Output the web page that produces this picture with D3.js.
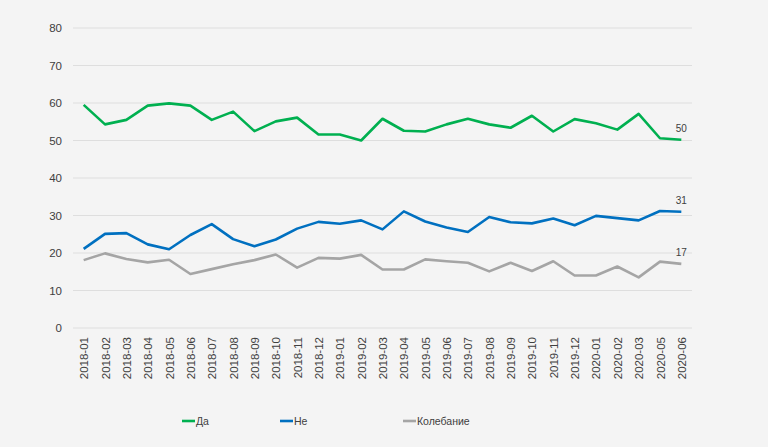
<!DOCTYPE html>
<html>
<head>
<meta charset="utf-8">
<script src="https://cdn.jsdelivr.net/npm/d3@7"></script>
<style>
  html, body { margin: 0; padding: 0; background: #f4f4f4; }
  svg { display: block; font-family: "Liberation Sans", Arial, sans-serif; }
</style>
</head>
<body>
<svg id="chart"></svg>
<script>
// months on the x axis (2020-04 is absent in the source)
const months = [
  "2018-01","2018-02","2018-03","2018-04","2018-05","2018-06","2018-07","2018-08","2018-09","2018-10","2018-11","2018-12",
  "2019-01","2019-02","2019-03","2019-04","2019-05","2019-06","2019-07","2019-08","2019-09","2019-10","2019-11","2019-12",
  "2020-01","2020-02","2020-03","2020-05","2020-06"
];
const da = [59.5,54.3,55.5,59.3,59.9,59.3,55.5,57.7,52.5,55.1,56.1,51.6,
            51.6,50.0,55.8,52.6,52.4,54.3,55.8,54.3,53.4,56.6,52.4,55.7,
            54.6,52.9,57.1,50.6,50.2];
const ne = [21.1,25.1,25.3,22.3,21.0,24.8,27.7,23.7,21.8,23.6,26.5,28.3,
            27.8,28.7,26.3,31.1,28.4,26.8,25.6,29.6,28.2,27.9,29.2,27.4,
            29.9,29.3,28.7,31.2,31.0];
const kolebanie = [18.1,19.9,18.4,17.5,18.2,14.4,15.7,17.0,18.1,19.6,16.1,18.7,
                   18.5,19.5,15.6,15.6,18.3,17.8,17.4,15.1,17.4,15.2,17.8,14.0,
                   14.0,16.4,13.5,17.7,17.1];
const yTicks = [0,10,20,30,40,50,60,70,80];

const series = [
  {name: "Да", values: da, color: "#00b050", label: "50"},
  {name: "Не", values: ne, color: "#0070c0", label: "31"},
  {name: "Колебание", values: kolebanie, color: "#a5a5a5", label: "17"}
];

const width = 768, height = 447;
const margin = {top: 28, right: 76, bottom: 119, left: 73};

const svg = d3.select("#chart")
  .attr("width", width)
  .attr("height", height);

const x = d3.scalePoint()
  .domain(months)
  .range([margin.left, width - margin.right])
  .padding(0.5);

const y = d3.scaleLinear()
  .domain([0, 80])
  .range([height - margin.bottom, margin.top]);

// gridlines
svg.append("g")
  .selectAll("line")
  .data(yTicks)
  .join("line")
  .attr("x1", margin.left)
  .attr("x2", width - margin.right)
  .attr("y1", d => y(d))
  .attr("y2", d => y(d))
  .attr("stroke", "#dedede")
  .attr("stroke-width", 1);

// y axis labels
const yAxis = svg.append("g")
  .attr("transform", `translate(${margin.left},0)`)
  .call(d3.axisLeft(y).tickValues(yTicks).tickSize(0).tickPadding(11));
yAxis.select(".domain").remove();
yAxis.selectAll("text")
  .attr("fill", "#404040")
  .style("font-size", "11.5px");

// x axis labels, rotated
const xAxis = svg.append("g")
  .attr("transform", `translate(0,${height - margin.bottom})`)
  .call(d3.axisBottom(x).tickSize(0));
xAxis.select(".domain").remove();
xAxis.selectAll("text")
  .attr("fill", "#404040")
  .style("font-size", "11.5px")
  .attr("text-anchor", "end")
  .attr("transform", "rotate(-90)")
  .attr("x", -9)
  .attr("y", 0)
  .attr("dy", "0.35em");

// lines
const line = d3.line()
  .x((d, i) => x(months[i]))
  .y(d => y(d));

svg.append("g")
  .selectAll("path")
  .data(series)
  .join("path")
  .attr("fill", "none")
  .attr("stroke", d => d.color)
  .attr("stroke-width", 2.6)
  .attr("stroke-linejoin", "round")
  .attr("d", d => line(d.values));

// end labels
svg.append("g")
  .selectAll("text")
  .data(series)
  .join("text")
  .attr("x", x(months[months.length - 1]))
  .attr("y", d => y(d.values[d.values.length - 1]) - 8)
  .attr("text-anchor", "middle")
  .attr("fill", "#404040")
  .style("font-size", "10px")
  .text(d => d.label);

// legend
const legendX = [182, 280, 403];
const legend = svg.append("g")
  .selectAll("g")
  .data(series)
  .join("g")
  .attr("transform", (d, i) => `translate(${legendX[i]},421)`);

legend.append("line")
  .attr("x1", 0)
  .attr("x2", 13)
  .attr("stroke", d => d.color)
  .attr("stroke-width", 2.6);

legend.append("text")
  .attr("x", 14)
  .attr("dy", "0.35em")
  .attr("fill", "#404040")
  .style("font-size", "10.5px")
  .text(d => d.name);
</script>
</body>
</html>
